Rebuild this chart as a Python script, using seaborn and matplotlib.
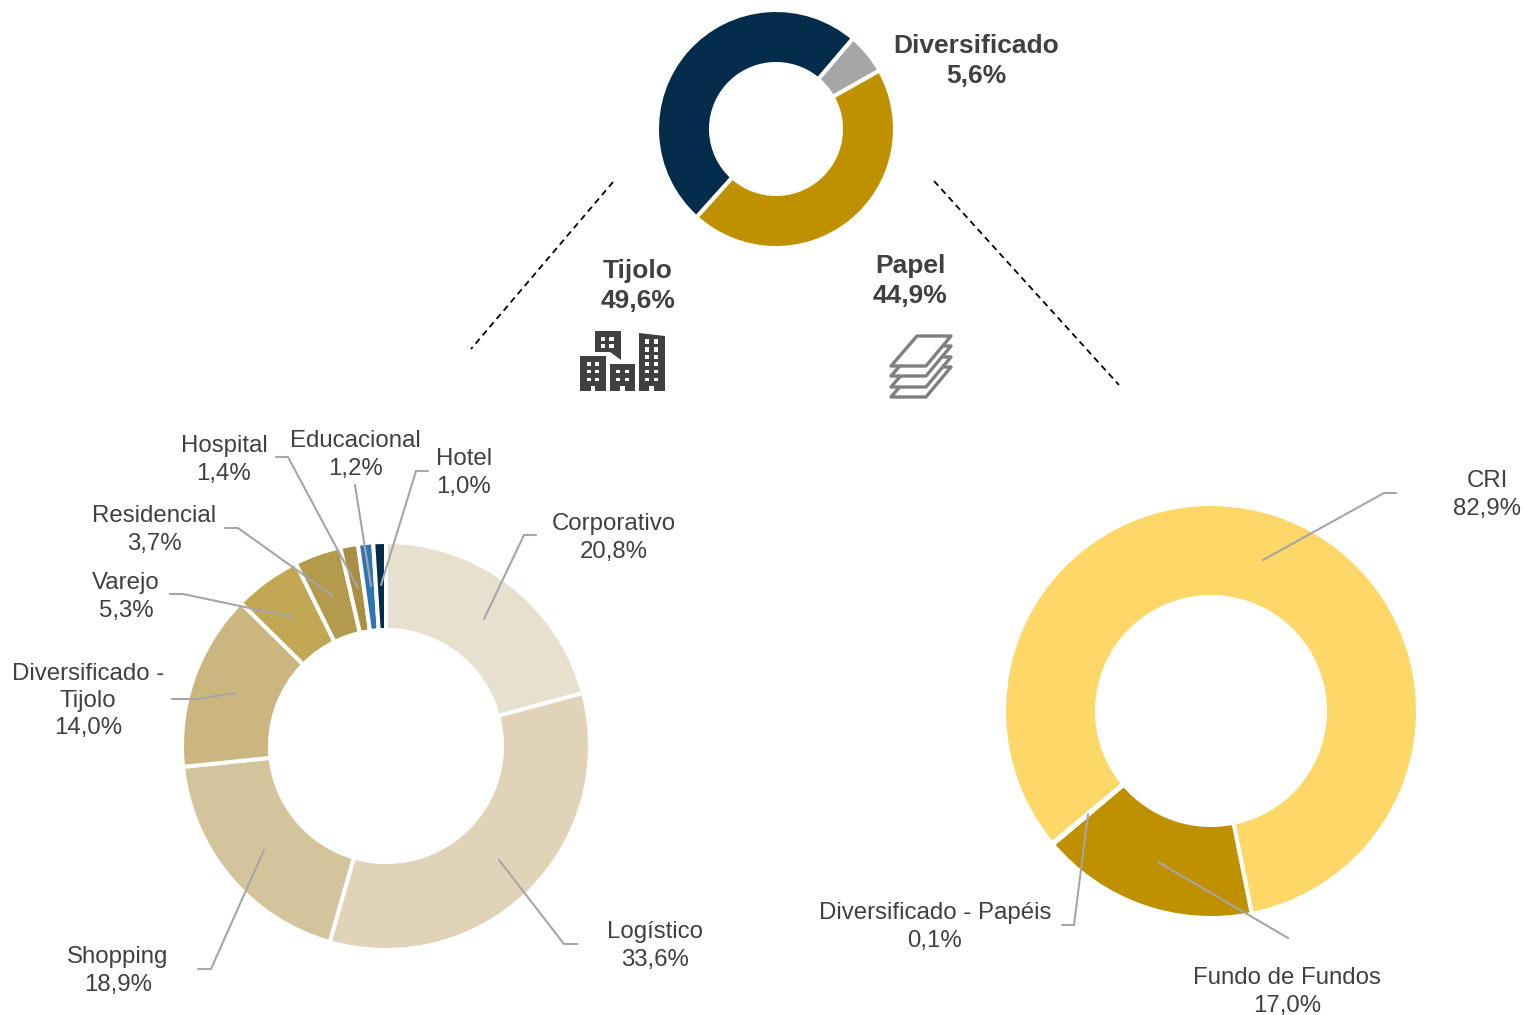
import matplotlib
matplotlib.use('Agg')
import matplotlib.pyplot as plt
from matplotlib.patches import Polygon, Rectangle
import seaborn as sns

W, H = 1524, 1015

# top donut, clockwise from the Tijolo/Papel boundary
top_names = ['Tijolo', 'Diversificado', 'Papel']
top_values = [49.6, 5.6, 44.9]
top_colors = ['#032B4A', '#A6A6A6', '#BF9000']

# left donut
tijolo_names = ['Corporativo', 'Logístico', 'Shopping', 'Diversificado -\nTijolo', 'Varejo',
                'Residencial', 'Hospital', 'Educacional', 'Hotel']
tijolo_values = [20.8, 33.6, 18.9, 14.0, 5.3, 3.7, 1.4, 1.2, 1.0]
tijolo_colors = ['#E8E0CF', '#E0D3B8', '#D4C49C', '#CBB67F', '#C2A855', '#B39A4D', '#A88F42',
                 '#2E75B6', '#032B4A']

# right donut
papel_names = ['CRI', 'Fundo de Fundos', 'Diversificado - Papéis']
papel_values = [82.9, 17.0, 0.1]
papel_colors = ['#FDD868', '#BF9000', '#FDD868']

# label centres and leader lines, in pixels of the figure
tijolo_label_pos = [(614, 538), (655, 946), (118, 971), (88, 701), (126, 597), (154, 530), (224, 460),
                    (355, 455), (464, 473)]
tijolo_leaders = [[(536, 535), (524, 535), (484, 619)],
                  [(577, 944), (564, 944), (499, 860)],
                  [(198, 969), (211, 969), (264, 850)],
                  [(172, 699), (197, 699), (235, 693)],
                  [(170, 594), (183, 594), (292, 617)],
                  [(225, 528), (238, 528), (333, 596)],
                  [(276, 457), (288, 457), (358, 588)],
                  [(355, 485), (371, 586)],
                  [(428, 471), (416, 471), (381, 585)]]
papel_label_pos = [(1487, 495), (1287, 992), (935, 927)]
papel_leaders = [[(1396, 493), (1384, 493), (1263, 560)],
                 [(1288, 938), (1158, 862)],
                 [(1062, 925), (1074, 925), (1088, 814)]]

TEXT = '#404040'
LINE = '#A6A6A6'

sns.set_theme(style='white')
plt.rcParams['font.family'] = ['Liberation Sans', 'DejaVu Sans']


def fmt(v):
    return f'{v:.1f}'.replace('.', ',') + '%'


def donut(fig, values, colors, cx, cy, r_out, r_in, start):
    # white edges eat half their width from the rim, so grow the wedge a bit
    r = r_out + 1
    ax = fig.add_axes([(cx - r) / W, 1 - (cy + r) / H, 2 * r / W, 2 * r / H])
    ax.pie(values, colors=colors, startangle=start, counterclock=False, radius=1,
           wedgeprops={'width': (r_out - r_in + 3) / r, 'edgecolor': 'white', 'linewidth': 2.9})
    ax.set_xlim(-1, 1)
    ax.set_ylim(-1, 1)
    ax.axis('off')
    return ax


def building(ax, outline, windows_x, windows_y, door=None):
    ax.add_patch(Polygon(outline, closed=True, fc=TEXT, ec='none'))
    for x0, x1 in windows_x:
        for y0, y1 in windows_y:
            ax.add_patch(Rectangle((x0 - 0.4, y0 - 0.4), x1 - x0 + 0.8, y1 - y0 + 0.8, fc='white', ec='none'))
    if door:
        ax.add_patch(Rectangle((door[0], door[1]), door[2] - door[0], door[3] - door[1], fc='white', ec='none'))


fig = plt.figure(figsize=(W / 100, H / 100), dpi=100, facecolor='white')

donut(fig, top_values, top_colors, 776, 129, 118, 67, 90 - 222)
donut(fig, tijolo_values, tijolo_colors, 386, 746, 203, 118, 90)
donut(fig, papel_values, papel_colors, 1211, 711, 206, 116, 90 - 230.2)

# overlay in pixel coordinates for text, leaders and icons
ov = fig.add_axes([0, 0, 1, 1], facecolor='none')
ov.set_xlim(0, W)
ov.set_ylim(H, 0)
ov.axis('off')

for pts in tijolo_leaders + papel_leaders:
    ov.plot([p[0] for p in pts], [p[1] for p in pts], color=LINE, lw=1.5, solid_joinstyle='miter')

names = tijolo_names + papel_names
vals = tijolo_values + papel_values
for name, v, (x, y) in zip(names, vals, tijolo_label_pos + papel_label_pos):
    ov.text(x, y, f'{name}\n{fmt(v)}', ha='center', va='center', fontsize=17.3, color=TEXT, linespacing=1.32)

ov.text(976, 61, f'Diversificado\n{fmt(top_values[1])}', ha='center', va='center', fontsize=19,
        fontweight='bold', color=TEXT, linespacing=1.32)
ov.text(638, 286, f'Tijolo\n{fmt(top_values[0])}', ha='center', va='center', fontsize=19,
        fontweight='bold', color=TEXT, linespacing=1.32)
ov.text(910, 281, f'Papel\n{fmt(top_values[2])}', ha='center', va='center', fontsize=19,
        fontweight='bold', color=TEXT, linespacing=1.32)

# dashed connectors
ov.plot([613, 471], [182, 349], color='black', lw=1.3, ls=(0, (3.5, 2.5)))
ov.plot([934, 1119], [181, 385], color='black', lw=1.3, ls=(0, (3.5, 2.5)))

# buildings icon
building(ov, [(595, 331), (621, 331), (621, 360), (610, 352), (595, 352)],
         [(601, 605), (609, 614)], [(337, 341), (344, 348)])
building(ov, [(580, 356), (606, 356), (606, 391), (580, 391)],
         [(587, 591), (595, 599)], [(362, 366), (370, 373), (378, 381)], (591, 386, 595, 391))
building(ov, [(610, 364), (635, 364), (635, 391), (610, 391)],
         [(616, 620), (625, 629)], [(370, 373), (378, 381)], (620, 386, 625, 391))
building(ov, [(639, 333), (665, 336), (665, 391), (639, 391)],
         [(645, 649), (654, 658)],
         [(339, 344), (347, 352), (355, 359), (362, 366), (370, 373), (378, 381)], (649, 386, 654, 391))

# stack of sheets icon, bottom one first
for dy in [31, 21, 10, 0]:
    ov.add_patch(Polygon([(917, 336 + dy), (951, 336 + dy), (926, 366 + dy), (891, 366 + dy)], closed=True,
                         fc='white', ec='#7F7F7F', lw=2.4, joinstyle='round'))

fig.savefig('out.png', dpi=100, facecolor='white')
